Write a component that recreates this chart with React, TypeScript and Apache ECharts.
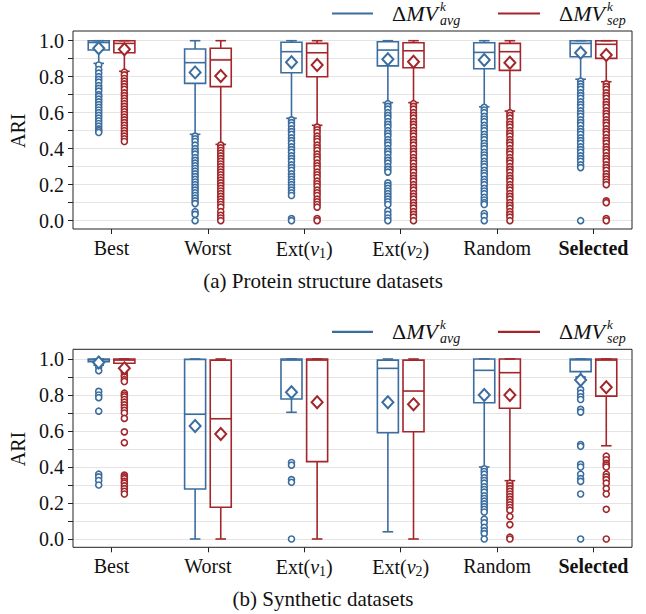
import React, { useEffect, useRef } from "react";
import * as echarts from "echarts";

const FONT = "Liberation Serif";
const BLUE = "#3b6d9f";
const RED = "#a2262a";

const categories = ["Best", "Worst", "Ext(v1)", "Ext(v2)", "Random", "Selected"];
const categoryPositions = [0, 1, 2, 3, 4, 5];

// ---------- (a) Protein structure datasets ----------
const aAvgLow = [0.874, 0.48, 0.569, 0.656, 0.633, 0.786];
const aAvgQ1 = [0.948, 0.763, 0.822, 0.86, 0.844, 0.911];
const aAvgMed = [0.99, 0.878, 0.939, 0.948, 0.935, 0.985];
const aAvgQ3 = [1.0, 0.954, 0.991, 0.994, 0.989, 1.0];
const aAvgHigh = [1.0, 1.0, 1.0, 1.0, 1.0, 1.0];
const aAvgMean = [0.958, 0.824, 0.88, 0.897, 0.893, 0.933];

const aSepLow = [0.83, 0.424, 0.53, 0.656, 0.609, 0.772];
const aSepQ1 = [0.933, 0.745, 0.8, 0.85, 0.835, 0.902];
const aSepMed = [0.985, 0.893, 0.933, 0.944, 0.939, 0.98];
const aSepQ3 = [1.0, 0.958, 0.985, 0.989, 0.985, 1.0];
const aSepHigh = [1.0, 1.0, 1.0, 1.0, 1.0, 1.0];
const aSepMean = [0.952, 0.804, 0.865, 0.883, 0.878, 0.92];

const aAvgOutliers = [
  [0.865, 0.84, 0.82, 0.8, 0.785, 0.77, 0.75, 0.735, 0.72, 0.7, 0.69, 0.675, 0.66, 0.645, 0.63, 0.615, 0.6, 0.585, 0.57, 0.555, 0.54, 0.525, 0.51, 0.5, 0.49],
  [0.47, 0.455, 0.44, 0.42, 0.4, 0.385, 0.37, 0.35, 0.335, 0.32, 0.305, 0.29, 0.275, 0.26, 0.245, 0.23, 0.215, 0.2, 0.185, 0.17, 0.155, 0.14, 0.125, 0.11, 0.095, 0.05, 0.035, 0.0],
  [0.56, 0.545, 0.53, 0.51, 0.495, 0.48, 0.46, 0.445, 0.43, 0.41, 0.395, 0.38, 0.36, 0.345, 0.33, 0.31, 0.295, 0.28, 0.26, 0.245, 0.23, 0.215, 0.2, 0.185, 0.17, 0.155, 0.14, 0.012, 0.0],
  [0.65, 0.635, 0.62, 0.6, 0.585, 0.57, 0.55, 0.535, 0.52, 0.5, 0.485, 0.47, 0.45, 0.435, 0.42, 0.4, 0.385, 0.37, 0.35, 0.335, 0.32, 0.3, 0.285, 0.27, 0.21, 0.195, 0.18, 0.165, 0.15, 0.135, 0.12, 0.105, 0.09, 0.055, 0.035, 0.015, 0.0],
  [0.63, 0.615, 0.6, 0.58, 0.565, 0.55, 0.53, 0.515, 0.5, 0.48, 0.465, 0.45, 0.43, 0.415, 0.4, 0.38, 0.365, 0.35, 0.33, 0.315, 0.3, 0.28, 0.265, 0.25, 0.23, 0.215, 0.2, 0.18, 0.165, 0.15, 0.13, 0.115, 0.1, 0.09, 0.04, 0.025, 0.0],
  [0.775, 0.76, 0.745, 0.73, 0.71, 0.695, 0.68, 0.66, 0.645, 0.63, 0.61, 0.595, 0.58, 0.56, 0.545, 0.53, 0.51, 0.495, 0.48, 0.46, 0.445, 0.43, 0.41, 0.395, 0.38, 0.36, 0.345, 0.33, 0.31, 0.295, 0.0],
];
const aSepOutliers = [
  [0.825, 0.81, 0.79, 0.775, 0.76, 0.745, 0.73, 0.71, 0.695, 0.68, 0.665, 0.65, 0.635, 0.62, 0.605, 0.59, 0.575, 0.56, 0.545, 0.53, 0.515, 0.5, 0.485, 0.47, 0.455, 0.44],
  [0.42, 0.405, 0.39, 0.375, 0.36, 0.345, 0.33, 0.315, 0.3, 0.285, 0.27, 0.255, 0.24, 0.225, 0.21, 0.195, 0.18, 0.165, 0.15, 0.135, 0.12, 0.105, 0.09, 0.075, 0.05, 0.03, 0.015, 0.0],
  [0.52, 0.505, 0.49, 0.47, 0.455, 0.44, 0.42, 0.405, 0.39, 0.37, 0.355, 0.34, 0.32, 0.305, 0.29, 0.27, 0.255, 0.24, 0.22, 0.205, 0.19, 0.17, 0.155, 0.14, 0.12, 0.105, 0.09, 0.075, 0.012, 0.0],
  [0.65, 0.635, 0.62, 0.6, 0.585, 0.57, 0.55, 0.535, 0.52, 0.5, 0.485, 0.47, 0.45, 0.435, 0.42, 0.4, 0.385, 0.37, 0.35, 0.335, 0.32, 0.3, 0.285, 0.27, 0.25, 0.235, 0.22, 0.2, 0.185, 0.17, 0.15, 0.135, 0.12, 0.1, 0.085, 0.07, 0.05, 0.035, 0.02, 0.0],
  [0.6, 0.585, 0.57, 0.55, 0.535, 0.52, 0.5, 0.485, 0.47, 0.45, 0.435, 0.42, 0.4, 0.385, 0.37, 0.35, 0.335, 0.32, 0.3, 0.285, 0.27, 0.25, 0.235, 0.22, 0.2, 0.185, 0.17, 0.15, 0.135, 0.12, 0.1, 0.085, 0.07, 0.05, 0.035, 0.02, 0.0],
  [0.76, 0.745, 0.73, 0.71, 0.695, 0.68, 0.66, 0.645, 0.63, 0.61, 0.595, 0.58, 0.56, 0.545, 0.53, 0.51, 0.495, 0.48, 0.46, 0.445, 0.43, 0.41, 0.395, 0.38, 0.36, 0.345, 0.33, 0.31, 0.295, 0.28, 0.26, 0.245, 0.23, 0.215, 0.2, 0.11, 0.1, 0.012, 0.0],
];

// ---------- (b) Synthetic datasets ----------
const bAvgLow = [0.965, 0.0, 0.704, 0.04, 0.4, 0.9];
const bAvgQ1 = [0.985, 0.278, 0.778, 0.59, 0.757, 0.93];
const bAvgMed = [0.995, 0.693, 0.994, 0.948, 0.937, 0.995];
const bAvgQ3 = [1.0, 0.998, 1.0, 0.994, 1.0, 1.0];
const bAvgHigh = [1.0, 1.0, 1.0, 1.0, 1.0, 1.0];
const bAvgMean = [0.98, 0.628, 0.815, 0.76, 0.8, 0.883];

const bSepLow = [0.95, 0.0, 0.0, 0.0, 0.324, 0.518];
const bSepQ1 = [0.976, 0.176, 0.43, 0.596, 0.726, 0.794];
const bSepMed = [0.994, 0.668, 0.994, 0.822, 0.924, 0.994];
const bSepQ3 = [1.0, 0.994, 1.0, 0.994, 1.0, 1.0];
const bSepHigh = [1.0, 1.0, 1.0, 1.0, 1.0, 1.0];
const bSepMean = [0.948, 0.583, 0.76, 0.748, 0.8, 0.843];

const bAvgOutliers = [
  [0.955, 0.935, 0.82, 0.8, 0.785, 0.71, 0.36, 0.345, 0.325, 0.3],
  [],
  [0.425, 0.41, 0.33, 0.315, 0.0],
  [],
  [0.39, 0.375, 0.36, 0.34, 0.325, 0.31, 0.29, 0.275, 0.26, 0.24, 0.225, 0.21, 0.195, 0.18, 0.165, 0.15, 0.11, 0.09, 0.065, 0.045, 0.03, 0.0],
  [0.83, 0.81, 0.79, 0.775, 0.72, 0.705, 0.525, 0.515, 0.415, 0.4, 0.36, 0.335, 0.32, 0.25, 0.0],
];
const bSepOutliers = [
  [0.925, 0.91, 0.9, 0.885, 0.875, 0.81, 0.8, 0.79, 0.775, 0.76, 0.745, 0.73, 0.715, 0.7, 0.67, 0.595, 0.535, 0.355, 0.345, 0.335, 0.32, 0.31, 0.295, 0.28, 0.265, 0.25],
  [],
  [],
  [],
  [0.31, 0.295, 0.28, 0.265, 0.25, 0.235, 0.22, 0.205, 0.19, 0.175, 0.16, 0.125, 0.08, 0.01, 0.0],
  [0.46, 0.44, 0.42, 0.41, 0.4, 0.36, 0.345, 0.33, 0.31, 0.28, 0.25, 0.165, 0.0],
];

// ---------- layout constants ----------
const OFFSET = 0.133;
const HALF_BOX = 0.109;
const HALF_CAP = 0.055;
const GRID_LEFT = 73;
const GRID_WIDTH = 559;
const PLOT_TOPS = [40.7, 359]; // pixel of value 1.0
const PLOT_HEIGHT = 180; // from 1.0 to 0.0
const FRAME_TOPS = [31, 349.3];
const FRAME_HEIGHT = 198;

function boxData(low: number[], q1: number[], med: number[], q3: number[], high: number[]) {
  return low.map((l, i) => [categoryPositions[i], l, q1[i], med[i], q3[i], high[i]]);
}

function boxSeries(gi: number, name: string, data: number[][], color: string, off: number) {
  return {
    type: "custom",
    name,
    xAxisIndex: gi,
    yAxisIndex: gi,
    data,
    encode: { x: 0, y: [1, 2, 3, 4, 5] },
    z: 3,
    clip: false,
    silent: true,
    renderItem: (params: any, api: any) => {
      const x = api.value(0) + off;
      const px = (xv: number) => api.coord([xv, 0])[0];
      const py = (v: number) => api.coord([x, v])[1];
      const xm = px(x);
      const xl = px(x - HALF_BOX);
      const xr = px(x + HALF_BOX);
      const cl = px(x - HALF_CAP);
      const cr = px(x + HALF_CAP);
      const yLow = py(api.value(1));
      const yQ1 = py(api.value(2));
      const yMed = py(api.value(3));
      const yQ3 = py(api.value(4));
      const yHigh = py(api.value(5));
      const st = { stroke: color, lineWidth: 1.6, fill: "none" };
      return {
        type: "group",
        children: [
          { type: "line", shape: { x1: xm, y1: yQ3, x2: xm, y2: yHigh }, style: st },
          { type: "line", shape: { x1: cl, y1: yHigh, x2: cr, y2: yHigh }, style: st },
          { type: "line", shape: { x1: xm, y1: yQ1, x2: xm, y2: yLow }, style: st },
          { type: "line", shape: { x1: cl, y1: yLow, x2: cr, y2: yLow }, style: st },
          { type: "rect", shape: { x: xl, y: yQ3, width: xr - xl, height: yQ1 - yQ3 }, style: st },
          { type: "line", shape: { x1: xl, y1: yMed, x2: xr, y2: yMed }, style: st },
        ],
      };
    },
  };
}

function outlierSeries(gi: number, name: string, out: number[][], color: string, off: number) {
  return {
    type: "scatter",
    name,
    xAxisIndex: gi,
    yAxisIndex: gi,
    data: out.flatMap((vals, i) => vals.map((v) => [categoryPositions[i] + off, v])),
    symbol: "circle",
    symbolSize: 6,
    z: 4,
    clip: false,
    silent: true,
    itemStyle: { color: "#ffffff", borderColor: color, borderWidth: 1.6, opacity: 1 },
  };
}

function meanSeries(gi: number, name: string, means: number[], color: string, off: number) {
  return {
    type: "scatter",
    name,
    xAxisIndex: gi,
    yAxisIndex: gi,
    data: means.map((m, i) => [categoryPositions[i] + off, m]),
    symbol: "diamond",
    symbolSize: [11, 12],
    z: 5,
    clip: false,
    silent: true,
    itemStyle: { color: "#ffffff", borderColor: color, borderWidth: 2, opacity: 1 },
  };
}

function catLabel(v: number) {
  const i = Math.round(v);
  if (i === 2) return "Ext({it|v}{sub|1})";
  if (i === 3) return "Ext({it|v}{sub|2})";
  if (i === 5) return "{b|" + categories[i] + "}";
  return categories[i] ?? "";
}

function xAxisFor(gi: number) {
  return {
    type: "value",
    gridIndex: gi,
    min: -0.4,
    max: 5.4,
    offset: 8.3,
    axisLine: { show: false, onZero: false },
    splitLine: { show: false },
    axisTick: { show: true, customValues: categoryPositions, length: 5, lineStyle: { color: "#222", width: 1 } },
    axisLabel: {
      customValues: categoryPositions,
      formatter: catLabel,
      margin: 9,
      fontFamily: FONT,
      fontSize: 20,
      color: "#111",
      rich: {
        it: { fontFamily: FONT, fontSize: 20, fontStyle: "italic", color: "#111" },
        sub: { fontFamily: FONT, fontSize: 14, color: "#111", verticalAlign: "bottom", padding: [8, 0, 0, 0] },
        b: { fontFamily: FONT, fontSize: 20, fontWeight: "bold", color: "#111" },
      },
    },
  };
}

function yAxisFor(gi: number) {
  return {
    type: "value",
    gridIndex: gi,
    position: "left",
    min: 0,
    max: 1,
    interval: 0.1,
    name: "ARI",
    nameLocation: "middle",
    nameGap: 44,
    nameRotate: 90,
    nameTextStyle: { fontFamily: FONT, fontSize: 20, color: "#111" },
    axisLine: { show: false, onZero: false },
    axisTick: { show: true, length: 5, lineStyle: { color: "#222", width: 1 } },
    axisLabel: {
      formatter: (v: number) => (Math.round(v * 10) % 2 === 0 ? v.toFixed(1) : ""),
      margin: 9,
      fontFamily: FONT,
      fontSize: 20,
      color: "#111",
      showMinLabel: true,
      showMaxLabel: true,
    },
    splitLine: { show: true, lineStyle: { color: "#e4e4e4", width: 1 } },
  };
}

function legendGraphics(dy: number) {
  const items: any[] = [];
  const entries = [
    { color: BLUE, x1: 332, x2: 373, tx: 415, sx: 440, sub: "avg" },
    { color: RED, x1: 498, x2: 540, tx: 582, sx: 607, sub: "sep" },
  ];
  entries.forEach((e) => {
    items.push({
      type: "line",
      shape: { x1: e.x1, y1: 13.5 + dy, x2: e.x2, y2: 13.5 + dy },
      style: { stroke: e.color, lineWidth: 2.2 },
    });
    items.push({
      type: "text",
      x: e.tx,
      y: 13.5 + dy,
      style: {
        text: "{d|Δ}{i|MV}",
        align: "center",
        verticalAlign: "middle",
        rich: {
          d: { fontFamily: FONT, fontSize: 22, fill: "#111" },
          i: { fontFamily: FONT, fontSize: 22, fontStyle: "italic", fill: "#111" },
        },
        fill: "#111",
      },
    });
    items.push({
      type: "text",
      x: e.sx,
      y: 6.5 + dy,
      style: { text: "k", font: `italic 13px ${FONT}`, fill: "#111", align: "left", verticalAlign: "middle" },
    });
    items.push({
      type: "text",
      x: e.sx,
      y: 20 + dy,
      style: { text: e.sub, font: `italic 14px ${FONT}`, fill: "#111", align: "left", verticalAlign: "middle" },
    });
  });
  return items;
}

export default function App() {
  const ref = useRef<HTMLDivElement>(null);
  useEffect(() => {
    document.body.style.margin = "0";
    if (!ref.current) return;
    const chart = echarts.init(ref.current, null, { renderer: "svg" });
    const grids = PLOT_TOPS.map((top) => ({
      left: GRID_LEFT,
      top,
      width: GRID_WIDTH,
      height: PLOT_HEIGHT,
      show: false,
      containLabel: false,
      outerBoundsMode: "none",
    }));
    const frames = FRAME_TOPS.map((top) => ({
      type: "rect",
      z: 10,
      silent: true,
      shape: { x: GRID_LEFT, y: top, width: GRID_WIDTH, height: FRAME_HEIGHT },
      style: { fill: "none", stroke: "#222", lineWidth: 1 },
    }));
    const option: any = {
      animation: false,
      backgroundColor: "#ffffff",
      grid: grids,
      xAxis: [xAxisFor(0), xAxisFor(1)],
      yAxis: [yAxisFor(0), yAxisFor(1)],
      series: [
        boxSeries(0, "ΔMV avg", boxData(aAvgLow, aAvgQ1, aAvgMed, aAvgQ3, aAvgHigh), BLUE, -OFFSET),
        boxSeries(0, "ΔMV sep", boxData(aSepLow, aSepQ1, aSepMed, aSepQ3, aSepHigh), RED, OFFSET),
        outlierSeries(0, "ΔMV avg", aAvgOutliers, BLUE, -OFFSET),
        outlierSeries(0, "ΔMV sep", aSepOutliers, RED, OFFSET),
        meanSeries(0, "ΔMV avg", aAvgMean, BLUE, -OFFSET),
        meanSeries(0, "ΔMV sep", aSepMean, RED, OFFSET),
        boxSeries(1, "ΔMV avg", boxData(bAvgLow, bAvgQ1, bAvgMed, bAvgQ3, bAvgHigh), BLUE, -OFFSET),
        boxSeries(1, "ΔMV sep", boxData(bSepLow, bSepQ1, bSepMed, bSepQ3, bSepHigh), RED, OFFSET),
        outlierSeries(1, "ΔMV avg", bAvgOutliers, BLUE, -OFFSET),
        outlierSeries(1, "ΔMV sep", bSepOutliers, RED, OFFSET),
        meanSeries(1, "ΔMV avg", bAvgMean, BLUE, -OFFSET),
        meanSeries(1, "ΔMV sep", bSepMean, RED, OFFSET),
      ],
      graphic: [
        ...frames,
        ...legendGraphics(0),
        ...legendGraphics(318.3),
        {
          type: "text",
          x: 323,
          y: 281,
          style: { text: "(a) Protein structure datasets", font: `21px ${FONT}`, fill: "#111", align: "center", verticalAlign: "middle" },
        },
        {
          type: "text",
          x: 323,
          y: 599,
          style: { text: "(b) Synthetic datasets", font: `21px ${FONT}`, fill: "#111", align: "center", verticalAlign: "middle" },
        },
      ],
    };
    chart.setOption(option);
    return () => chart.dispose();
  }, []);
  return <div ref={ref} style={{ width: 646, height: 614 }} />;
}
